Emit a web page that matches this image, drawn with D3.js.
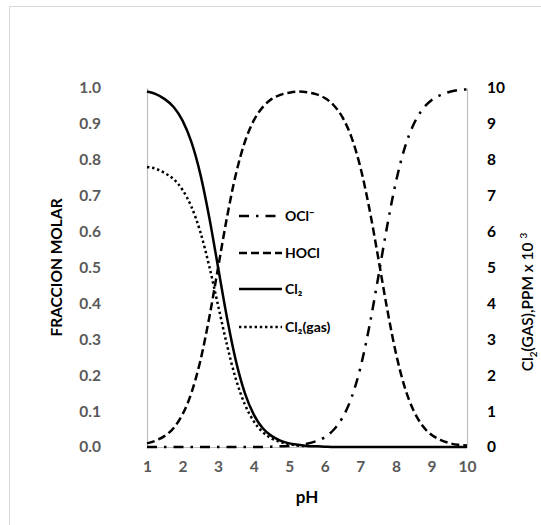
<!DOCTYPE html>
<html><head><meta charset="utf-8">
<script src="https://cdn.jsdelivr.net/npm/d3@7"></script>
<style>body{margin:0;background:#fff}svg{display:block}</style>
</head><body><svg id="c" width="541" height="525"></svg>
<script>
const pH = [1,1.25,1.5,1.75,2,2.25,2.5,2.75,3,3.25,3.5,3.75,4,4.25,4.5,4.75,5,5.25,5.5,5.75,6,6.25,6.5,6.75,7,7.25,7.5,7.75,8,8.25,8.5,8.75,9,9.25,9.5,9.75,10];
const cl2  = [0.990,0.983,0.969,0.947,0.909,0.849,0.760,0.640,0.500,0.360,0.240,0.151,0.091,0.053,0.031,0.018,0.010,0.006,0.003,0.002,0.001,0,0,0,0,0,0,0,0,0,0,0,0,0,0,0,0];
const hocl = [0.010,0.018,0.031,0.053,0.091,0.151,0.240,0.360,0.500,0.640,0.760,0.849,0.909,0.946,0.969,0.981,0.987,0.990,0.988,0.983,0.972,0.952,0.918,0.863,0.780,0.666,0.529,0.387,0.262,0.166,0.101,0.059,0.034,0.020,0.011,0.006,0.004];
const ocl  = [0,0,0,0,0,0,0,0,0,0,0,0,0,0,0.001,0.002,0.003,0.005,0.009,0.016,0.027,0.048,0.082,0.137,0.220,0.334,0.471,0.613,0.738,0.834,0.899,0.941,0.966,0.980,0.989,0.994,0.996];
const pHgas = [1,1.25,1.5,1.75,2,2.25,2.5,2.75,3,3.25,3.5,3.75,4,4.25,4.5,4.75,5,5.25,5.5];
const cl2gas = [7.80,7.75,7.63,7.46,7.16,6.69,5.99,5.04,3.94,2.84,1.89,1.19,0.72,0.42,0.24,0.14,0.08,0.04,0.02];
const xTicks = [1,2,3,4,5,6,7,8,9,10];
const yLeftTicks = [0,0.1,0.2,0.3,0.4,0.5,0.6,0.7,0.8,0.9,1.0];
const yRightTicks = [0,1,2,3,4,5,6,7,8,9,10];
const legendNames = ["OCl\u00AF","HOCl","Cl\u2082","Cl\u2082(gas)"];

const svg = d3.select("#c");
const FONT = "Lato, 'Open Sans', 'Liberation Sans', sans-serif";
const L=147, R=467, T=88, B=447;
const x = d3.scaleLinear().domain([1,10]).range([L,R]);
const yl = d3.scaleLinear().domain([0,1]).range([B,T]);
const yr = d3.scaleLinear().domain([0,10]).range([B,T]);

svg.append("rect").attr("x",9.5).attr("y",6.5).attr("width",560).attr("height",560)
  .attr("fill","#fff").attr("stroke","#d9d9d9").attr("stroke-width",1);

// axes
const gx = svg.append("g").attr("transform",`translate(0,${B})`)
  .call(d3.axisBottom(x).tickValues(xTicks).tickSize(0).tickPadding(14).tickFormat(d3.format("d")));
const gyl = svg.append("g").attr("transform",`translate(${L},0)`)
  .call(d3.axisLeft(yl).tickValues(yLeftTicks).tickSize(0).tickPadding(46).tickFormat(d3.format(".1f")));
const gyr = svg.append("g").attr("transform",`translate(${R},0)`)
  .call(d3.axisRight(yr).tickValues(yRightTicks).tickSize(0).tickPadding(20).tickFormat(d3.format("d")));
[gx,gyl,gyr].forEach(g=>{
  g.select(".domain").attr("stroke","#bfbfbf").attr("stroke-width",1.2);
  g.selectAll("text").attr("font-family",FONT).attr("font-weight","bold").attr("font-size",15.5);
});
gx.selectAll("text").attr("fill","#595959");
gyl.selectAll("text").attr("fill","#595959");
gyr.selectAll("text").attr("fill","#000");

// lines
const line = (xs, ys, ysc) => d3.line().x((d,i)=>x(xs[i])).y(d=>ysc(d)).curve(d3.curveMonotoneX)(ys);
const styles = [
  {data: ocl, xs: pH, sc: yl, dash: "10,7,2.5,7", w: 2.5},
  {data: hocl, xs: pH, sc: yl, dash: "8,4", w: 2.5},
  {data: cl2, xs: pH, sc: yl, dash: null, w: 2.5},
  {data: cl2gas, xs: pHgas, sc: yr, dash: "2.4,2.8", w: 2.5}
];
styles.forEach(s=>{
  svg.append("path").attr("d", line(s.xs, s.data, s.sc)).attr("fill","none")
    .attr("stroke","#000").attr("stroke-width",s.w).attr("stroke-dasharray",s.dash);
});

// legend
const legY = [216,253,289,327];
styles.forEach((s,i)=>{
  svg.append("line").attr("x1",239).attr("x2",282).attr("y1",legY[i]).attr("y2",legY[i])
    .attr("stroke","#000").attr("stroke-width",s.w).attr("stroke-dasharray",s.dash);
  svg.append("text").attr("x",285).attr("y",legY[i]).attr("dy","0.35em")
    .attr("font-family",FONT).attr("font-weight","bold").attr("font-size",14).text(legendNames[i]);
});

// titles
svg.append("text").attr("x",(L+R)/2).attr("y",503).attr("text-anchor","middle")
  .attr("font-family",FONT).attr("font-weight","bold").attr("font-size",17).text("pH");
svg.append("text").attr("transform",`translate(62,${(T+B)/2}) rotate(-90)`).attr("text-anchor","middle")
  .attr("font-family",FONT).attr("font-weight","bold").attr("font-size",15.5).text("FRACCION MOLAR");
const rt = svg.append("text").attr("transform",`translate(533,${302}) rotate(-90)`).attr("text-anchor","middle")
  .attr("font-family",FONT).attr("font-size",15.5).attr("font-weight",600);
rt.append("tspan").text("Cl");
rt.append("tspan").attr("font-size",10).attr("dy",4).text("2");
rt.append("tspan").attr("dy",-4).text("(GAS),PPM x 10 ");
rt.append("tspan").attr("font-size",10).attr("dy",-6).text("3");
</script></body></html>
